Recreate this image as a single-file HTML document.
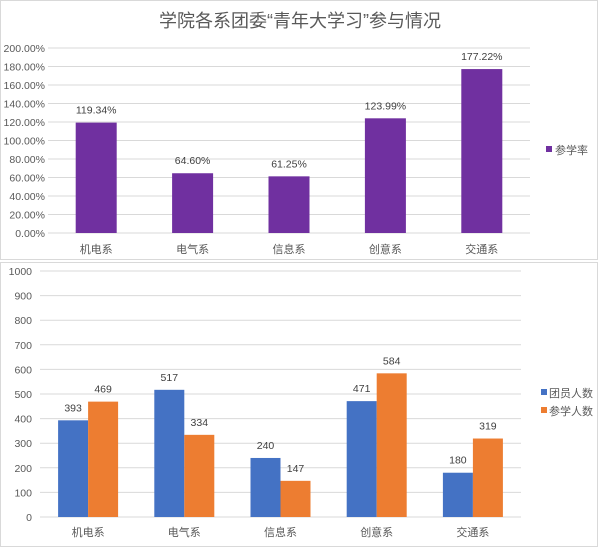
<!DOCTYPE html>
<html><head><meta charset="utf-8"><style>
body{margin:0;background:#fff;width:600px;height:547px;overflow:hidden;font-family:"Liberation Sans","Noto Sans CJK SC",sans-serif}
svg text{font-family:"Liberation Sans","Noto Sans CJK SC",sans-serif}
</style></head><body>
<svg width="600" height="547">
<rect x="0.5" y="0.5" width="597" height="259" fill="#fff" stroke="#d9d9d9"/>
<rect x="0.5" y="262.5" width="597" height="284" fill="#fff" stroke="#d9d9d9"/>
<text x="300" y="27" text-anchor="middle" font-size="18" fill="#595959">学院各系团委“青年大学习”参与情况</text>
<g id="gtop"></g><g id="gbot"></g>
</svg>
<script>
const cats=["机电系","电气系","信息系","创意系","交通系"];
const rate=[119.34,64.60,61.25,123.99,177.22];
const rateTicks=[0,20,40,60,80,100,120,140,160,180,200];
const members=[393,517,240,471,180];
const learners=[469,334,147,584,319];
const countTicks=[0,100,200,300,400,500,600,700,800,900,1000];
const NS="http://www.w3.org/2000/svg";
function mk(p,t,a,txt){const e=document.createElementNS(NS,t);for(const k in a)e.setAttribute(k,a[k]);if(txt!==undefined)e.textContent=txt;p.appendChild(e);return e;}
// top chart
const gTop=document.getElementById('gtop');
const tx0=48,tx1=530,ty0=233,ty1=48;
const ty=v=>ty0-(v/200)*(ty0-ty1);
const tcw=(tx1-tx0)/cats.length;
rateTicks.forEach(v=>{
 let l=mk(gTop,'line',{x1:tx0,x2:tx1,y1:ty(v),y2:ty(v),stroke:'#d9d9d9'});
 
 
 let t=mk(gTop,'text',{x:tx0-3,y:ty(v)+4,'text-anchor':'end','font-size':'10.5',fill:'#595959'},v.toFixed(2)+'%');
 
 
});
cats.forEach((c,i)=>{
 const cx=tx0+tcw*(i+0.5);
 let r=mk(gTop,'rect',{x:cx-20.5,y:ty(rate[i]),width:41,height:ty0-ty(rate[i]),fill:'#7030a0'});
 
 
 let v=mk(gTop,'text',{x:cx,y:ty(rate[i])-9,'text-anchor':'middle','font-size':'10.5',fill:'#404040'},rate[i].toFixed(2)+'%');
 
 
 let t=mk(gTop,'text',{x:cx,y:253,'text-anchor':'middle','font-size':'11',fill:'#595959'},c);
 
 
});
let lg=mk(gTop,'rect',{x:546,y:146,width:6,height:6,fill:'#7030a0'});


let lt=mk(gTop,'text',{x:555,y:154,'font-size':'11',fill:'#595959'},'参学率');


// bottom chart
const gBot=document.getElementById('gbot');
const bx0=40,bx1=521,by0=517,by1=271;
const by=v=>by0-(v/1000)*(by0-by1);
const bcw=(bx1-bx0)/cats.length;
countTicks.forEach(v=>{
 let l=mk(gBot,'line',{x1:bx0,x2:bx1,y1:by(v),y2:by(v),stroke:'#d9d9d9'});
 
 
 let t=mk(gBot,'text',{x:32,y:by(v)+4,'text-anchor':'end','font-size':'10.5',fill:'#595959'},v);
 
 
});
cats.forEach((c,i)=>{
 const cx=bx0+bcw*(i+0.5);
 let r1=mk(gBot,'rect',{x:cx-30,y:by(members[i]),width:30,height:by0-by(members[i]),fill:'#4472c4'});
 
 
 let r2=mk(gBot,'rect',{x:cx,y:by(learners[i]),width:30,height:by0-by(learners[i]),fill:'#ed7d31'});
 
 
 let v1=mk(gBot,'text',{x:cx-15,y:by(members[i])-9,'text-anchor':'middle','font-size':'10.5',fill:'#404040'},members[i]);
 
 
 let v2=mk(gBot,'text',{x:cx+15,y:by(learners[i])-9,'text-anchor':'middle','font-size':'10.5',fill:'#404040'},learners[i]);
 
 
 let t=mk(gBot,'text',{x:cx,y:536,'text-anchor':'middle','font-size':'11',fill:'#595959'},c);
 
 
});
[['#4472c4','团员人数',393],['#ed7d31','参学人数',411]].forEach(d=>{
 let s=mk(gBot,'rect',{x:541,y:d[2]-4,width:6,height:6,fill:d[0]});
 
 
 let t=mk(gBot,'text',{x:549,y:d[2]+4,'font-size':'11',fill:'#595959'},d[1]);
 
 
});
</script>
</body></html>
